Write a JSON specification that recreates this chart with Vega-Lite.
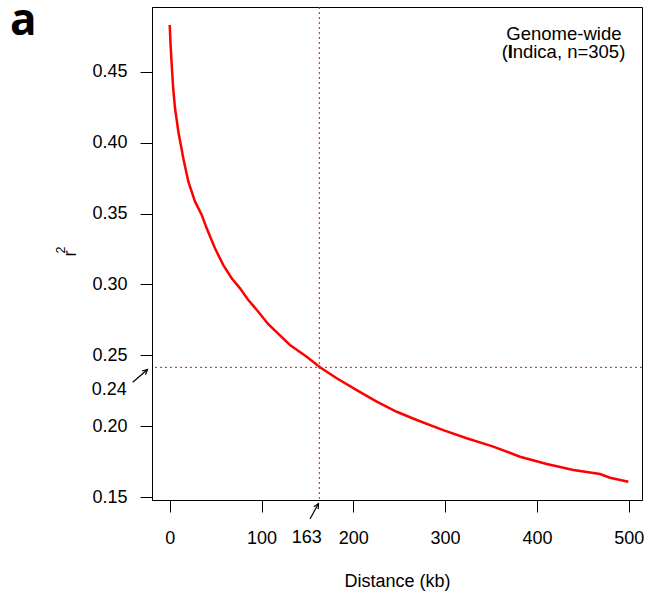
{
  "$schema": "https://vega.github.io/schema/vega-lite/v6.json",
  "autosize": {"type": "none"},
  "padding": {"left": 152, "top": 7, "right": 5, "bottom": 95},
  "width": 490,
  "height": 493,
  "background": "white",
  "config": {
    "view": {"stroke": "#000", "strokeWidth": 1},
    "axis": {
      "grid": false,
      "domainColor": "#000",
      "tickColor": "#000",
      "labelColor": "#000",
      "titleColor": "#000",
      "labelFont": "Liberation Sans",
      "titleFont": "Liberation Sans",
      "labelFontSize": 18,
      "titleFontSize": 18,
      "titleFontWeight": "normal",
      "tickSize": 12,
      "labelFlush": false,
      "labelOverlap": false
    }
  },
  "layer": [
    {
      "data": {"values": [
        {"x": 0, "y": 0.4829},
        {"x": 1.0, "y": 0.468},
        {"x": 2.2, "y": 0.4547},
        {"x": 3.8, "y": 0.438},
        {"x": 5.8, "y": 0.4242},
        {"x": 9.4, "y": 0.4077},
        {"x": 14.8, "y": 0.3890},
        {"x": 20.3, "y": 0.3725},
        {"x": 27.6, "y": 0.3584},
        {"x": 34.9, "y": 0.3490},
        {"x": 40.3, "y": 0.3396},
        {"x": 49.3, "y": 0.3255},
        {"x": 58.4, "y": 0.3137},
        {"x": 67.5, "y": 0.3044},
        {"x": 76.6, "y": 0.2973},
        {"x": 85.6, "y": 0.2891},
        {"x": 96.5, "y": 0.2808},
        {"x": 107.4, "y": 0.2720},
        {"x": 113, "y": 0.2685},
        {"x": 131, "y": 0.2574},
        {"x": 149.2, "y": 0.2491},
        {"x": 163.7, "y": 0.2416},
        {"x": 181.9, "y": 0.2339},
        {"x": 203.7, "y": 0.2256},
        {"x": 225.5, "y": 0.2174},
        {"x": 247.3, "y": 0.2103},
        {"x": 269.1, "y": 0.2045},
        {"x": 298, "y": 0.1974},
        {"x": 323.5, "y": 0.1916},
        {"x": 352.5, "y": 0.1857},
        {"x": 381.6, "y": 0.1786},
        {"x": 410.7, "y": 0.1735},
        {"x": 439.7, "y": 0.1692},
        {"x": 468.7, "y": 0.1664},
        {"x": 479.6, "y": 0.1638},
        {"x": 499.6, "y": 0.1610}
      ]},
      "mark": {"type": "line", "color": "#ff0000", "strokeWidth": 2.5},
      "encoding": {
        "x": {
          "field": "x", "type": "quantitative",
          "scale": {"domain": [-19.3, 514.5], "nice": false, "zero": false},
          "axis": {
            "values": [0, 100, 200, 300, 400, 500],
            "labelPadding": 17,
            "title": "Distance (kb)",
            "titleX": 245,
            "titleY": 86,
            "titleBaseline": "alphabetic",
            "titleAlign": "center"
          }
        },
        "y": {
          "field": "y", "type": "quantitative",
          "scale": {"domain": [0.1481, 0.4956], "nice": false, "zero": false},
          "axis": {
            "values": [0.15, 0.2, 0.25, 0.3, 0.35, 0.4, 0.45],
            "format": ".2f",
            "labelPadding": 13,
            "title": "r",
            "titleX": -77,
            "titleY": 246,
            "titleAngle": -90,
            "titleBaseline": "alphabetic",
            "titleAlign": "center"
          }
        }
      }
    },
    {
      "data": {"values": [{"y": 0.2416}]},
      "mark": {"type": "rule", "color": "#d11a1a", "strokeWidth": 1, "strokeDash": [2, 3]},
      "encoding": {"y": {"field": "y", "type": "quantitative", "title": "r"}}
    },
    {
      "data": {"values": [{"x": 163}]},
      "mark": {"type": "rule", "color": "#d11a1a", "strokeWidth": 1, "strokeDash": [2, 3]},
      "encoding": {"x": {"field": "x", "type": "quantitative", "title": "Distance (kb)"}}
    },
    {
      "data": {"values": [
        {"x": -40.3, "y": 0.2311, "x2": -24.2, "y2": 0.2401},
        {"x": 152.8, "y": 0.1347, "x2": 162.1, "y2": 0.1456}
      ]},
      "mark": {"type": "rule", "color": "#000", "strokeWidth": 1.2},
      "encoding": {
        "x": {"field": "x", "type": "quantitative", "title": "Distance (kb)"},
        "y": {"field": "y", "type": "quantitative", "title": "r"},
        "x2": {"field": "x2"},
        "y2": {"field": "y2"}
      }
    },
    {
      "data": {"values": [{"x": -24.2, "y": 0.2401}]},
      "mark": {"type": "point", "shape": "M-0.5,1L0,0L0.5,1", "filled": false, "color": "#000", "strokeWidth": 1.2, "size": 100, "angle": 48, "opacity": 1},
      "encoding": {
        "x": {"field": "x", "type": "quantitative", "title": "Distance (kb)"},
        "y": {"field": "y", "type": "quantitative", "title": "r"}
      }
    },
    {
      "data": {"values": [{"x": 162.1, "y": 0.1456}]},
      "mark": {"type": "point", "shape": "M-0.5,1L0,0L0.5,1", "filled": false, "color": "#000", "strokeWidth": 1.2, "size": 100, "angle": 30, "opacity": 1},
      "encoding": {
        "x": {"field": "x", "type": "quantitative", "title": "Distance (kb)"},
        "y": {"field": "y", "type": "quantitative", "title": "r"}
      }
    },
    {
      "data": {"values": [{"x": -46.8, "y": 0.2222, "label": "0.24"}]},
      "mark": {"type": "text", "align": "right", "baseline": "alphabetic", "font": "Liberation Sans", "fontSize": 18, "color": "#000"},
      "encoding": {
        "x": {"field": "x", "type": "quantitative", "title": "Distance (kb)"},
        "y": {"field": "y", "type": "quantitative", "title": "r"},
        "text": {"field": "label"}
      }
    },
    {
      "data": {"values": [{"x": 149.2, "y": 0.1178, "label": "163"}]},
      "mark": {"type": "text", "align": "center", "baseline": "alphabetic", "font": "Liberation Sans", "fontSize": 18, "color": "#000"},
      "encoding": {
        "x": {"field": "x", "type": "quantitative", "title": "Distance (kb)"},
        "y": {"field": "y", "type": "quantitative", "title": "r"},
        "text": {"field": "label"}
      }
    },
    {
      "data": {"values": [{"x": -114, "y": 0.3243, "label": "2"}]},
      "mark": {"type": "text", "align": "center", "baseline": "alphabetic", "angle": 270, "font": "Liberation Sans", "fontSize": 12.5, "color": "#000"},
      "encoding": {
        "x": {"field": "x", "type": "quantitative", "title": "Distance (kb)"},
        "y": {"field": "y", "type": "quantitative", "title": "r"},
        "text": {"field": "label"}
      }
    },
    {
      "data": {"values": [
        {"x": 366.7, "y": 0.4723, "label": "Genome-wide"},
        {"x": 361.7, "y": 0.4594, "label": "("},
        {"x": 373.6, "y": 0.4594, "label": "ndica, n=305)"}
      ]},
      "mark": {"type": "text", "align": "left", "baseline": "alphabetic", "font": "Liberation Sans", "fontSize": 18.5, "color": "#000"},
      "encoding": {
        "x": {"field": "x", "type": "quantitative", "title": "Distance (kb)"},
        "y": {"field": "y", "type": "quantitative", "title": "r"},
        "text": {"field": "label"}
      }
    },
    {
      "data": {"values": [{"x": 368.2, "y": 0.4594, "label": "I"}]},
      "mark": {"type": "text", "align": "left", "baseline": "alphabetic", "font": "Liberation Sans", "fontSize": 18.5, "fontWeight": "bold", "color": "#000"},
      "encoding": {
        "x": {"field": "x", "type": "quantitative", "title": "Distance (kb)"},
        "y": {"field": "y", "type": "quantitative", "title": "r"},
        "text": {"field": "label"}
      }
    },
    {
      "data": {"values": [{"x": -174, "y": 0.4759, "label": "a"}]},
      "mark": {"type": "text", "align": "left", "baseline": "alphabetic", "font": "Open Sans", "fontSize": 44, "fontWeight": "bold", "color": "#000"},
      "encoding": {
        "x": {"field": "x", "type": "quantitative", "title": "Distance (kb)"},
        "y": {"field": "y", "type": "quantitative", "title": "r"},
        "text": {"field": "label"}
      }
    }
  ]
}
